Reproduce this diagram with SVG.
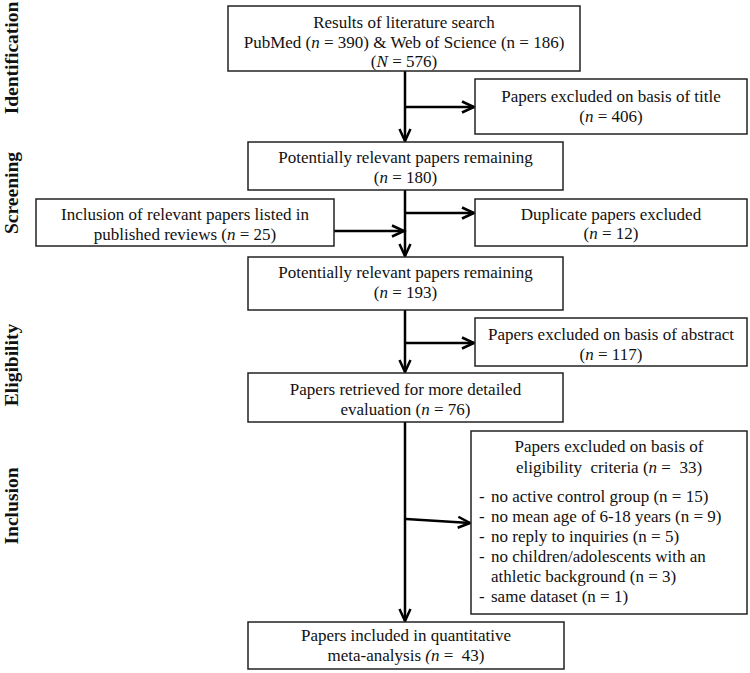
<svg xmlns="http://www.w3.org/2000/svg" width="750" height="673" viewBox="0 0 750 673">
<style>
.box{fill:#fff;stroke:#222;stroke-width:1.5}
text{font-family:"Liberation Serif","Times New Roman",serif;font-size:17px;fill:#111}
.c{text-anchor:middle}
.ph{font-weight:bold;font-size:19.5px;text-anchor:middle}
.i{font-style:italic}
.con{stroke:#000;stroke-width:2.5;fill:none}
</style>
<defs>
<marker id="arr" markerUnits="userSpaceOnUse" markerWidth="16" markerHeight="16" viewBox="0 0 16 16" refX="13" refY="8" orient="auto">
<path d="M1,2.5 L13,8 L1,13.5" fill="none" stroke="#000" stroke-width="2.5"/>
</marker>
</defs>
<rect width="750" height="673" fill="#fff"/>
<g id="phases">
<text class="ph" transform="translate(18,58) rotate(-90)">Identification</text>
<text class="ph" transform="translate(18,193) rotate(-90)">Screening</text>
<text class="ph" transform="translate(18,365) rotate(-90)">Eligibility</text>
<text class="ph" transform="translate(18,506) rotate(-90)">Inclusion</text>
</g>
<g id="connectors">
<path class="con" d="M405,71 L405,141" marker-end="url(#arr)"/>
<path class="con" d="M405,107 L474,107" marker-end="url(#arr)"/>
<path class="con" d="M405,190 L405,256" marker-end="url(#arr)"/>
<path class="con" d="M405,213 L474,213" marker-end="url(#arr)"/>
<path class="con" d="M334,231 L404,231" marker-end="url(#arr)"/>
<path class="con" d="M405,310 L405,372" marker-end="url(#arr)"/>
<path class="con" d="M405,343 L474,343" marker-end="url(#arr)"/>
<path class="con" d="M405,422 L405,621" marker-end="url(#arr)"/>
<path class="con" d="M406,519 L470,523" marker-end="url(#arr)"/>
</g>
<g id="n-search">
<rect class="box" x="228" y="6" width="352" height="65"/>
<text class="c" x="404" y="28">Results of literature search</text>
<text class="c" x="404" y="48">PubMed (<tspan class="i">n</tspan> = 390) &amp; Web of Science (n = 186)</text>
<text class="c" x="404" y="67">(<tspan class="i">N</tspan> = 576)</text>
</g>
<g id="n-title">
<rect class="box" x="475" y="79" width="272" height="55"/>
<text class="c" x="611" y="102">Papers excluded on basis of title</text>
<text class="c" x="611" y="122">(<tspan class="i">n</tspan> = 406)</text>
</g>
<g id="n-remain180">
<rect class="box" x="248" y="142" width="315" height="48"/>
<text class="c" x="405.5" y="163">Potentially relevant papers remaining</text>
<text class="c" x="405.5" y="183">(<tspan class="i">n</tspan> = 180)</text>
</g>
<g id="n-reviews">
<rect class="box" x="36" y="199" width="298" height="47"/>
<text class="c" x="185" y="220">Inclusion of relevant papers listed in</text>
<text class="c" x="185" y="240">published reviews (<tspan class="i">n</tspan> = 25)</text>
</g>
<g id="n-duplicate">
<rect class="box" x="475" y="199" width="272" height="47"/>
<text class="c" x="611" y="220">Duplicate papers excluded</text>
<text class="c" x="611" y="239">(<tspan class="i">n</tspan> = 12)</text>
</g>
<g id="n-remain193">
<rect class="box" x="248" y="257" width="315" height="53"/>
<text class="c" x="405.5" y="278">Potentially relevant papers remaining</text>
<text class="c" x="405.5" y="298">(<tspan class="i">n</tspan> = 193)</text>
</g>
<g id="n-abstract">
<rect class="box" x="475" y="318" width="272" height="48"/>
<text class="c" x="611" y="340">Papers excluded on basis of abstract</text>
<text class="c" x="611" y="360">(<tspan class="i">n</tspan> = 117)</text>
</g>
<g id="n-retrieved">
<rect class="box" x="248" y="373" width="315" height="49"/>
<text class="c" x="405.5" y="395">Papers retrieved for more detailed</text>
<text class="c" x="405.5" y="415">evaluation (<tspan class="i">n</tspan> = 76)</text>
</g>
<g id="n-criteria">
<rect class="box" x="471" y="431" width="276" height="183"/>
<text class="c" x="609" y="452">Papers excluded on basis of</text>
<text class="c" x="609" y="473" xml:space="preserve">eligibility  criteria (<tspan class="i">n</tspan> =  33)</text>
<text x="479" y="502">-</text><text x="491" y="502">no active control group (n = 15)</text>
<text x="479" y="522">-</text><text x="491" y="522">no mean age of 6-18 years (n = 9)</text>
<text x="479" y="542">-</text><text x="491" y="542">no reply to inquiries (n = 5)</text>
<text x="479" y="562">-</text><text x="491" y="562">no children/adolescents with an</text>
<text x="491" y="582">athletic background (n = 3)</text>
<text x="479" y="602">-</text><text x="491" y="602">same dataset (n = 1)</text>
</g>
<g id="n-included">
<rect class="box" x="248" y="622" width="316" height="47"/>
<text class="c" x="406" y="641">Papers included in quantitative</text>
<text class="c" x="406" y="661" xml:space="preserve">meta-analysis <tspan class="i">(n</tspan> =  43)</text>
</g>
</svg>
